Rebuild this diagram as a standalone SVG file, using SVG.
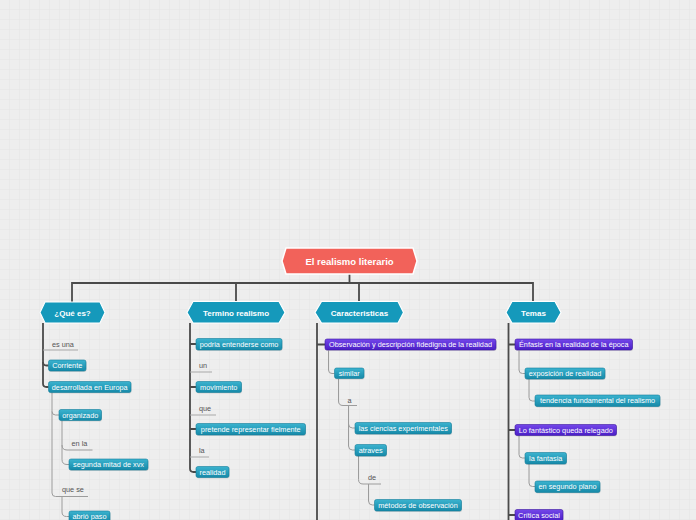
<svg xmlns="http://www.w3.org/2000/svg" width="696" height="520" viewBox="0 0 696 520">
<defs>
<pattern id="grid" width="10" height="10" patternUnits="userSpaceOnUse">
<rect width="10" height="10" fill="#eeeeee"/>
<path d="M10,0 V10 M0,10 H10" stroke="#e5e5e5" stroke-width="1" fill="none"/>
</pattern>
<linearGradient id="gT" x1="0" y1="0" x2="0" y2="1">
<stop offset="0" stop-color="#3bb3cf"/>
<stop offset="1" stop-color="#1689a8"/>
</linearGradient>
<linearGradient id="gP" x1="0" y1="0" x2="0" y2="1">
<stop offset="0" stop-color="#7447ea"/>
<stop offset="1" stop-color="#4a1ec6"/>
</linearGradient>
</defs>
<style>
.trunk{fill:none;stroke:#4a4a4a;stroke-width:1.8}
.sub{fill:none;stroke:#9c9c9c;stroke-width:1}
.ul{fill:none;stroke:#a8a8a8;stroke-width:1}
.root{fill:#f2625a;stroke:#ffffff;stroke-width:1.5}
.hex{fill:#1599bb;stroke:#ffffff;stroke-width:1.2}
.bt{fill:url(#gT);stroke:#137e9b;stroke-width:0.6}
.bp{fill:url(#gP);stroke:#3a169e;stroke-width:0.6}
.sh{fill:#000;opacity:0.12}
.tb{font-family:"Liberation Sans",Arial,sans-serif;font-size:7.3px;fill:#ffffff;text-anchor:middle}
.tl{font-family:"Liberation Sans",Arial,sans-serif;font-size:7.3px;fill:#555555}
.th{font-family:"Liberation Sans",Arial,sans-serif;font-size:8px;font-weight:bold;fill:#ffffff;text-anchor:middle}
.tr{font-family:"Liberation Sans",Arial,sans-serif;font-size:9.5px;font-weight:bold;fill:#ffffff;text-anchor:middle}
</style>
<rect width="696" height="520" fill="url(#grid)"/>

<g id="connectors">
<path class="trunk" d="M349.5,274 V283 M72,302 V283 H533 V302 M236,283 V302 M359,283 V302"/>
<path class="trunk" d="M43,323 V383.5 Q43,387 46.5,387 H48.5"/>
<path class="trunk" d="M43,362 Q43,365.5 46.5,365.5 H48.5"/>
<path class="ul" d="M43,350 H78"/>
<path class="sub" d="M52,392.5 V493 Q52,496.5 55.5,496.5 H88"/>
<path class="sub" d="M52,411.5 Q52,415 55.5,415 H59"/>
<path class="sub" d="M62,420.5 V445 Q62,450 67,450 H92.5"/>
<path class="sub" d="M62,445 V459.5 Q62,464.5 67,464.5 H69"/>
<path class="sub" d="M62,496.5 V512 Q62,516.5 66.5,516.5 H69"/>
<path class="trunk" d="M190,323 V468.5 Q190,472 193.5,472 H196"/>
<path class="trunk" d="M190,344 H196 M190,387 H196 M190,429 H196"/>
<path class="ul" d="M190,372 H212 M190,415 H216 M190,457 H209"/>
<path class="trunk" d="M317,323 V520 M317,344.5 H325"/>
<path class="sub" d="M328.5,350.5 V370 Q328.5,373.5 332,373.5 H334.5"/>
<path class="sub" d="M338.5,379 V401 Q338.5,405.5 343,405.5 H357"/>
<path class="sub" d="M348.5,405.5 V424 Q348.5,428 352.5,428 H355"/>
<path class="sub" d="M348.5,424 V446 Q348.5,450 352.5,450 H355"/>
<path class="sub" d="M358.5,456 V479.5 Q358.5,484 363,484 H381"/>
<path class="sub" d="M368.5,484 V501 Q368.5,505 372.5,505 H374.5"/>
<path class="trunk" d="M508.5,323 V520 M508.5,344.5 H515 M508.5,430 H515 M508.5,515 H515"/>
<path class="sub" d="M519,350.5 V370 Q519,373.5 522.5,373.5 H525"/>
<path class="sub" d="M529,379 V397.5 Q529,401 532.5,401 H535"/>
<path class="sub" d="M519,435.5 V454.5 Q519,458 522.5,458 H525"/>
<path class="sub" d="M529,464 V483 Q529,486.5 532.5,486.5 H535"/>
</g>

<g id="root">
<polygon class="root" points="282,261 286,248 413,248 417,261 413,274 286,274"/>
<text class="tr" x="349.5" y="264.5">El realismo literario</text>
</g>

<g id="que-es">
<polygon class="hex" points="40,312.5 45,302 100,302 105,312.5 100,323 45,323"/>
<text class="th" x="72.5" y="315.5">¿Qué es?</text>
</g>
<g id="termino">
<polygon class="hex" points="187,312.5 193,301.5 279,301.5 285,312.5 279,323 193,323"/>
<text class="th" x="236" y="315.5">Termino realismo</text>
</g>
<g id="caracteristicas">
<polygon class="hex" points="315,312.5 321.5,301.5 398,301.5 403.5,312.5 398,323 321.5,323"/>
<text class="th" x="359.5" y="315.5">Caracteristicas</text>
</g>
<g id="temas">
<polygon class="hex" points="506,312.5 512,301.5 555,301.5 561,312.5 555,323 512,323"/>
<text class="th" x="533.5" y="315.5">Temas</text>
</g>

<g id="l-es-una"><text class="tl" x="52" y="347">es una</text></g>
<g id="n-corriente"><rect class="sh" x="49" y="361" width="37.5" height="11" rx="2"/><rect class="bt" x="48.5" y="360" width="37.5" height="11" rx="2"/><text class="tb" x="67.25" y="368">Corriente</text></g>
<g id="n-desarrollada"><rect class="sh" x="49" y="382.5" width="82.5" height="11" rx="2"/><rect class="bt" x="48.5" y="381.5" width="82.5" height="11" rx="2"/><text class="tb" x="89.75" y="389.5">desarrollada en Europa</text></g>
<g id="n-organizado"><rect class="sh" x="59.5" y="410.5" width="42.5" height="11" rx="2"/><rect class="bt" x="59" y="409.5" width="42.5" height="11" rx="2"/><text class="tb" x="80.25" y="417.5">organizado</text></g>
<g id="l-en-la"><text class="tl" x="71.5" y="445.5">en la</text></g>
<g id="n-segunda"><rect class="sh" x="69.5" y="460" width="79" height="11" rx="2"/><rect class="bt" x="69" y="459" width="79" height="11" rx="2"/><text class="tb" x="108.5" y="467">segunda mitad de xvx</text></g>
<g id="l-que-se"><text class="tl" x="62" y="492">que se</text></g>
<g id="n-abrio"><rect class="sh" x="69.5" y="512" width="41" height="11" rx="2"/><rect class="bt" x="69" y="511" width="41" height="11" rx="2"/><text class="tb" x="89.5" y="519">abrió paso</text></g>

<g id="n-podria"><rect class="sh" x="196.5" y="339.5" width="86" height="11.5" rx="2"/><rect class="bt" x="196" y="338.5" width="86" height="11.5" rx="2"/><text class="tb" x="239" y="346.7">podria entenderse como</text></g>
<g id="l-un"><text class="tl" x="199" y="367.5">un</text></g>
<g id="n-movimiento"><rect class="sh" x="196.5" y="382.5" width="45.5" height="11" rx="2"/><rect class="bt" x="196" y="381.5" width="45.5" height="11" rx="2"/><text class="tb" x="218.75" y="389.5">movimiento</text></g>
<g id="l-que"><text class="tl" x="199" y="410.5">que</text></g>
<g id="n-pretende"><rect class="sh" x="196.5" y="424.5" width="109.5" height="11.5" rx="2"/><rect class="bt" x="196" y="423.5" width="109.5" height="11.5" rx="2"/><text class="tb" x="250.75" y="431.7">pretende representar fielmente</text></g>
<g id="l-la"><text class="tl" x="199" y="452.5">la</text></g>
<g id="n-realidad"><rect class="sh" x="196.5" y="467.5" width="33" height="11" rx="2"/><rect class="bt" x="196" y="466.5" width="33" height="11" rx="2"/><text class="tb" x="212.5" y="474.5">realidad</text></g>

<g id="n-observacion"><rect class="sh" x="325.5" y="340" width="171" height="11" rx="2"/><rect class="bp" x="325" y="339" width="171" height="11" rx="2"/><text class="tb" x="410.5" y="347">Observación y descripción fidedigna de la realidad</text></g>
<g id="n-similar"><rect class="sh" x="335" y="369" width="29.5" height="10.5" rx="2"/><rect class="bt" x="334.5" y="368" width="29.5" height="10.5" rx="2"/><text class="tb" x="349.25" y="375.8">similar</text></g>
<g id="l-a"><text class="tl" x="347.5" y="402.5">a</text></g>
<g id="n-ciencias"><rect class="sh" x="355.5" y="423.5" width="96.5" height="11.5" rx="2"/><rect class="bt" x="355" y="422.5" width="96.5" height="11.5" rx="2"/><text class="tb" x="403.25" y="430.7">las ciencias experimentales</text></g>
<g id="n-atraves"><rect class="sh" x="355.5" y="445.5" width="31.5" height="11.5" rx="2"/><rect class="bt" x="355" y="444.5" width="31.5" height="11.5" rx="2"/><text class="tb" x="370.75" y="452.7">atraves</text></g>
<g id="l-de"><text class="tl" x="368" y="480">de</text></g>
<g id="n-metodos"><rect class="sh" x="375" y="500.5" width="87" height="11.5" rx="2"/><rect class="bt" x="374.5" y="499.5" width="87" height="11.5" rx="2"/><text class="tb" x="418" y="507.7">métodos de observación</text></g>

<g id="n-enfasis"><rect class="sh" x="515.5" y="340" width="117.5" height="11" rx="2"/><rect class="bp" x="515" y="339" width="117.5" height="11" rx="2"/><text class="tb" x="573.75" y="347">Énfasis en la realidad de la época</text></g>
<g id="n-exposicion"><rect class="sh" x="525.5" y="369" width="80" height="11" rx="2"/><rect class="bt" x="525" y="368" width="80" height="11" rx="2"/><text class="tb" x="565" y="376">exposición de realidad</text></g>
<g id="n-tendencia"><rect class="sh" x="535.5" y="396" width="125" height="11.5" rx="2"/><rect class="bt" x="535" y="395" width="125" height="11.5" rx="2"/><text class="tb" x="597.5" y="403.2">tendencia fundamental del realismo</text></g>
<g id="n-fantastico"><rect class="sh" x="515.5" y="425.5" width="101.5" height="11" rx="2"/><rect class="bp" x="515" y="424.5" width="101.5" height="11" rx="2"/><text class="tb" x="565.75" y="432.5">Lo fantástico queda relegado</text></g>
<g id="n-fantasia"><rect class="sh" x="525.5" y="453.5" width="41.5" height="11.5" rx="2"/><rect class="bt" x="525" y="452.5" width="41.5" height="11.5" rx="2"/><text class="tb" x="545.75" y="460.7">la fantasia</text></g>
<g id="n-segundo-plano"><rect class="sh" x="535.5" y="482" width="65" height="11.5" rx="2"/><rect class="bt" x="535" y="481" width="65" height="11.5" rx="2"/><text class="tb" x="567.5" y="489.2">en segundo plano</text></g>
<g id="n-critica"><rect class="sh" x="515.5" y="510.5" width="48" height="11.5" rx="2"/><rect class="bp" x="515" y="509.5" width="48" height="11.5" rx="2"/><text class="tb" x="539" y="517.7">Crítica social</text></g>
</svg>
